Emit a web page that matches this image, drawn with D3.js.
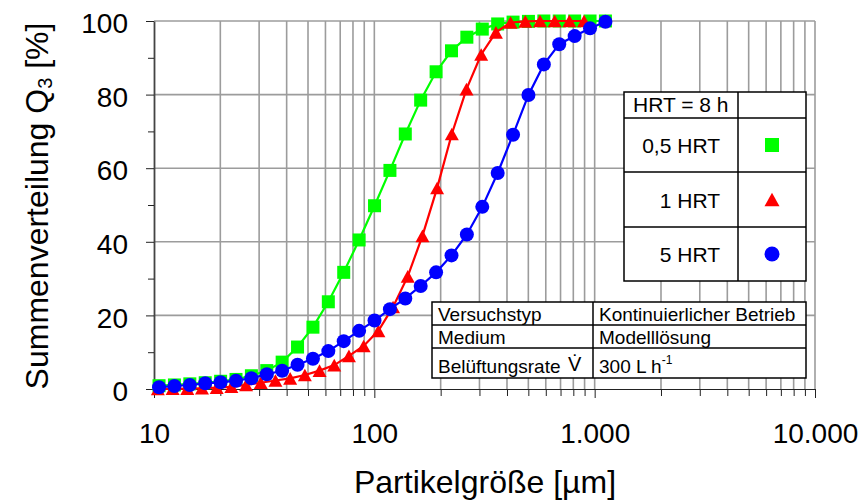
<!DOCTYPE html>
<html>
<head>
<meta charset="utf-8">
<script src="https://cdn.jsdelivr.net/npm/d3@7"></script>
<style>
  body { margin: 0; background: #fff; }
  text { font-family: "Liberation Sans", Arial, sans-serif; fill: #000; }
</style>
</head>
<body>
<div id="chart"></div>
<script>
// Partikelgrößen in µm (0,5 HRT und 5 HRT)
const sizesA = [10.54, 12.38, 14.54, 17.08, 20.06, 23.56, 27.67, 32.50, 38.16, 44.82,
  52.64, 61.83, 72.62, 85.30, 100.2, 117.7, 138.2, 162.3, 190.7, 224.0,
  263.0, 309.0, 362.9, 426.2, 500.6, 588.0, 690.6, 811.2, 952.8, 1119];
// Partikelgrößen in µm (1 HRT)
const sizesB = [10.41, 12.15, 14.16, 16.51, 19.25, 22.45, 26.17, 30.52, 35.58, 41.49,
  48.38, 56.41, 65.77, 76.69, 89.42, 104.3, 121.6, 141.8, 165.3, 192.7,
  224.7, 262.0, 305.5, 356.2, 415.3, 484.3, 564.7, 658.4, 767.7, 895.1];

// Summenverteilung Q3 in %
const q05 = [0.9, 1.1, 1.4, 1.7, 2.1, 2.6, 3.6, 5.0, 7.3, 11.4,
  16.8, 23.7, 31.7, 40.5, 49.8, 59.4, 69.3, 78.5, 86.2, 91.9,
  95.6, 97.8, 99.2, 99.7, 99.9, 100, 100, 100, 100, 100];
const q1 = [0, 0.05, 0.1, 0.2, 0.35, 0.6, 1.1, 1.7, 2.3, 2.9,
  3.8, 5.0, 6.5, 9.0, 11.7, 15.8, 22.3, 30.6, 41.6, 54.6,
  69.3, 81.5, 90.9, 96.9, 99.6, 99.9, 100, 100, 100, 100];
const q5 = [0.46, 0.82, 1.09, 1.55, 1.82, 2.26, 2.91, 4.0, 4.97, 6.6,
  8.2, 10.3, 13.0, 15.8, 18.6, 21.7, 24.6, 28.0, 31.7, 36.3,
  42.0, 49.5, 58.7, 69.1, 79.9, 88.2, 93.7, 95.9, 98.0, 99.8];

const xLabelTicks = [10, 100, 1000, 10000];
const yLabelTicks = [0, 20, 40, 60, 80, 100];
const yMinorTicks = [10, 30, 50, 70, 90];
const legendTitle = "HRT = 8 h";
const legendLabels = ["0,5 HRT", "1 HRT", "5 HRT"];
const infoLeft = ["Versuchstyp", "Medium", "Belüftungsrate"];
const infoRight = ["Kontinuierlicher Betrieb", "Modelllösung", "300 L h"];

const series = [
  {name: legendLabels[0], xs: sizesA, ys: q05, color: "#00ff00", shape: "square"},
  {name: legendLabels[1], xs: sizesB, ys: q1, color: "#ff0000", shape: "triangle"},
  {name: legendLabels[2], xs: sizesA, ys: q5, color: "#0000ff", shape: "circle"}
];

const width = 860;
const height = 503;
const margin = {top: 21, right: 45, bottom: 114, left: 154};

const svg = d3.select("#chart").append("svg")
    .attr("width", width)
    .attr("height", height)
    .attr("viewBox", [0, 0, width, height]);

const x = d3.scaleLog([10, 10000], [margin.left, width - margin.right]);
const y = d3.scaleLinear([0, 100], [height - margin.bottom, margin.top]);

const de = d3.formatLocale({decimal: ",", thousands: ".", grouping: [3], currency: ["", " €"]});
const fmt = de.format(",");
const isDecade = d => Math.abs(Math.log10(d) - Math.round(Math.log10(d))) < 1e-9;

// Gitter
const grid = svg.append("g").attr("stroke", "#9c9c9c").attr("stroke-width", 1.6);
grid.selectAll("line.v")
  .data(x.ticks().filter(d => d > 10))
  .join("line")
    .attr("x1", d => x(d)).attr("x2", d => x(d))
    .attr("y1", y(0)).attr("y2", y(100));
grid.selectAll("line.h")
  .data(yLabelTicks.filter(d => d > 0))
  .join("line")
    .attr("x1", x(10)).attr("x2", x(10000))
    .attr("y1", d => y(d)).attr("y2", d => y(d));

// Achsen
svg.append("g")
    .attr("transform", `translate(0,${y(0)})`)
    .call(d3.axisBottom(x)
      .tickValues(x.ticks())
      .tickSizeInner(7)
      .tickSizeOuter(0)
      .tickPadding(27)
      .tickFormat(d => isDecade(d) ? fmt(d) : ""))
    .call(g => g.selectAll(".tick line").attr("y2", d => isDecade(d) ? 9 : 7).attr("stroke", "#222"))
    .call(g => g.select(".domain").attr("stroke", "#222").attr("stroke-width", 1.2))
    .call(g => g.selectAll("text").attr("font-size", 28).attr("font-family", null));

svg.append("g")
    .attr("transform", `translate(${margin.left},0)`)
    .call(d3.axisLeft(y)
      .tickValues(yLabelTicks.concat(yMinorTicks))
      .tickSizeInner(6)
      .tickSizeOuter(0)
      .tickPadding(20)
      .tickFormat(d => yLabelTicks.includes(d) ? d : ""))
    .call(g => g.selectAll(".tick line").attr("x2", d => yLabelTicks.includes(d) ? -8 : -6).attr("stroke", "#222"))
    .call(g => g.select(".domain").attr("stroke", "#444").attr("stroke-width", 1.8))
    .call(g => g.selectAll("text").attr("font-size", 28).attr("font-family", null).attr("dy", "0.42em"));

// Achsentitel
const yTitle = svg.append("text")
    .attr("transform", "translate(48,206) rotate(-90)")
    .attr("text-anchor", "middle")
    .attr("font-size", 32);
yTitle.append("tspan").text("Summenverteilung Q");
yTitle.append("tspan").attr("font-size", 20).attr("dy", 4).text("3");
yTitle.append("tspan").attr("dy", -4).text(" [%]");

svg.append("text")
    .attr("x", 485)
    .attr("y", 493)
    .attr("text-anchor", "middle")
    .attr("font-size", 32)
    .text("Partikelgröße [µm]");

// Marker
function marker(sel, shape, color, s) {
  if (shape === "circle") {
    sel.append("circle").attr("r", s / 2).attr("fill", color);
  } else if (shape === "square") {
    sel.append("rect").attr("x", -s / 2 + 0.5).attr("y", -s / 2 + 0.5)
      .attr("width", s - 1).attr("height", s - 1).attr("fill", color);
  } else {
    const h = s * 0.9;
    sel.append("path").attr("d", `M0,${-h / 2}L${s / 2},${h / 2}L${-s / 2},${h / 2}Z`).attr("fill", color);
  }
}

const line = d3.line().x(d => x(d[0])).y(d => y(d[1]));

series.forEach(s => {
  const pts = s.xs.map((v, i) => [v, s.ys[i]]);
  const g = svg.append("g");
  g.append("path")
    .attr("fill", "none")
    .attr("stroke", s.color)
    .attr("stroke-width", 2.2)
    .attr("d", line(pts));
  g.selectAll("g.pt")
    .data(pts)
    .join("g")
      .attr("transform", d => `translate(${x(d[0])},${y(d[1])})`)
      .each(function () { marker(d3.select(this), s.shape, s.color, 14); });
});

// Legende
const leg = svg.append("g").attr("stroke", "#000").attr("stroke-width", 1.5);
const legX = [624, 738, 806];
const legY = [92, 118, 172, 227, 281];
leg.append("rect").attr("x", legX[0]).attr("y", legY[0])
  .attr("width", legX[2] - legX[0]).attr("height", legY[4] - legY[0]).attr("fill", "#fff");
leg.append("line").attr("x1", legX[1]).attr("x2", legX[1]).attr("y1", legY[0]).attr("y2", legY[4]);
legY.slice(1, 4).forEach(v => leg.append("line").attr("x1", legX[0]).attr("x2", legX[2]).attr("y1", v).attr("y2", v));

svg.append("text").attr("x", 633).attr("y", 112).attr("font-size", 21).text(legendTitle);
series.forEach((s, i) => {
  const cy = (legY[i + 1] + legY[i + 2]) / 2;
  svg.append("text").attr("x", 720).attr("y", cy + 8).attr("text-anchor", "end")
    .attr("font-size", 21).text(s.name);
  const m = svg.append("g").attr("transform", `translate(772,${cy})`);
  marker(m, s.shape, s.color, 15);
});

// Versuchsbedingungen
const info = svg.append("g").attr("stroke", "#000").attr("stroke-width", 1.5);
const infoX = [432, 593, 806];
const infoY = [302, 325, 348, 378];
info.append("rect").attr("x", infoX[0]).attr("y", infoY[0])
  .attr("width", infoX[2] - infoX[0]).attr("height", infoY[3] - infoY[0]).attr("fill", "#fff");
info.append("line").attr("x1", infoX[1]).attr("x2", infoX[1]).attr("y1", infoY[0]).attr("y2", infoY[3]);
[infoY[1], infoY[2]].forEach(v => info.append("line").attr("x1", infoX[0]).attr("x2", infoX[2]).attr("y1", v).attr("y2", v));

const rowBase = [320.5, 343.5, 373];
infoLeft.forEach((t, i) => {
  svg.append("text").attr("x", 438).attr("y", rowBase[i]).attr("font-size", 19).text(t);
});
infoRight.forEach((t, i) => {
  const txt = svg.append("text").attr("x", 599).attr("y", rowBase[i]).attr("font-size", 19).text(t);
  if (i === 2) txt.append("tspan").attr("font-size", 12).attr("dy", -9).text("-1");
});
// V mit Punkt (Volumenstrom)
svg.append("text").attr("x", 568).attr("y", 371)
  .attr("font-family", "Liberation Serif, Times New Roman, serif").attr("font-size", 20)
  .text("V\u0307");
</script>
</body>
</html>
